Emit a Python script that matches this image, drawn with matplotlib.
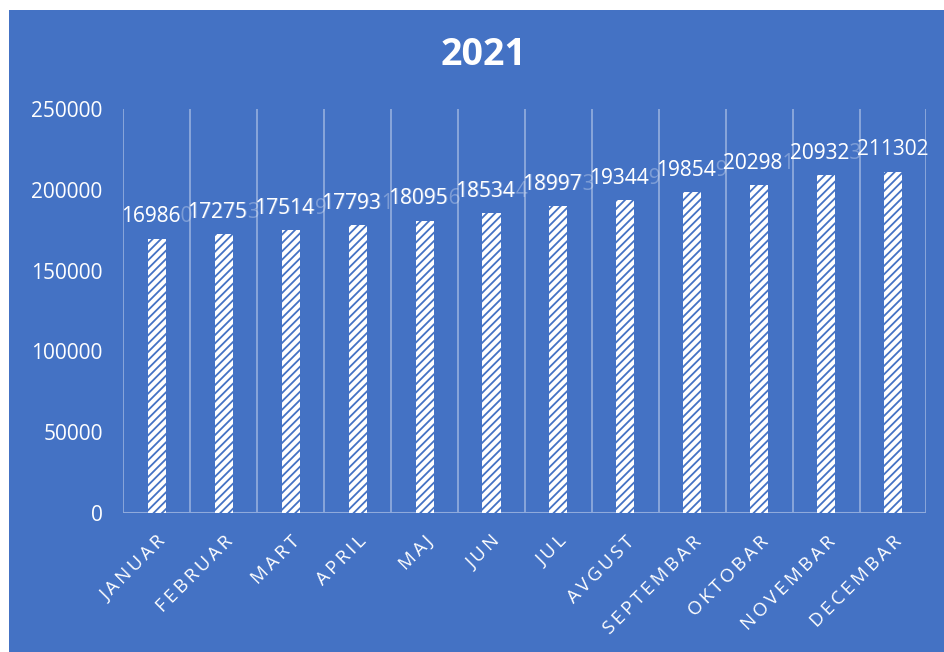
import matplotlib.pyplot as plt
from matplotlib.patches import Rectangle

months = ["JANUAR", "FEBRUAR", "MART", "APRIL", "MAJ", "JUN", "JUL",
          "AVGUST", "SEPTEMBAR", "OKTOBAR", "NOVEMBAR", "DECEMBAR"]
values = [169860, 172753, 175149, 177931, 180956, 185344, 189973,
          193449, 198549, 202981, 209323, 211302]
yticks = [0, 50000, 100000, 150000, 200000, 250000]

blue = "#4472C4"
grid = "#8FAADC"
plt.rcParams["font.family"] = ["Open Sans", "DejaVu Sans"]
plt.rcParams["hatch.linewidth"] = 1.3
plt.rcParams["hatch.color"] = blue

fig = plt.figure(figsize=(9.44, 6.52), dpi=100)
fig.patch.set_facecolor("white")
fig.patches.append(Rectangle((9 / 944, 0), 1, 1 - 10 / 652, transform=fig.transFigure,
                             facecolor=blue, edgecolor="none", zorder=-10))

ax = fig.add_axes([0.1308, 0.2132, 0.8506, 0.6196])
ax.set_facecolor("none")
x = list(range(len(months)))
ax.bar(x, values, width=0.27, facecolor="white", edgecolor=blue, hatch="////",
       linewidth=0, zorder=3)

ax.set_xlim(-0.5, len(months) - 0.5)
ax.set_ylim(0, 250000)

# category separators
for b in range(len(months) + 1):
    ax.axvline(b - 0.5, color=grid, linewidth=1.3, zorder=1)
ax.axhline(0, color=grid, linewidth=1.5, zorder=2)

for s in ax.spines.values():
    s.set_visible(False)

ax.set_yticks(yticks)
ax.set_yticklabels([str(v) for v in yticks], color="white", fontsize=15)
ax.tick_params(axis="y", length=0, pad=15)

thin = "\u2009"
ax.set_xticks(x)
ax.set_xticklabels([thin.join(m) for m in months], color="white", fontsize=13.5,
                   rotation=45, ha="right", rotation_mode="anchor")
ax.tick_params(axis="x", length=0, pad=14)

# data labels: last digit faint where neighbours overlap
for i, v in enumerate(values):
    s = str(v)
    if i == len(values) - 1:
        ax.annotate(s, (i, v), xytext=(0, 8), textcoords="offset points",
                    ha="center", va="bottom", color="white", fontsize=15, zorder=5)
    else:
        ax.annotate(s, (i, v), xytext=(0, 8), textcoords="offset points",
                    ha="center", va="bottom", color="white", alpha=0.3,
                    fontsize=15, zorder=5)
        ax.annotate(s[:-1], (i, v), xytext=(-4.6, 8), textcoords="offset points",
                    ha="center", va="bottom", color="white", fontsize=15, zorder=6)

fig.text(0.512, 0.9156, "2021", color="white", fontsize=27, fontweight="bold",
         ha="center", va="center")

fig.savefig("out.png", dpi=100)
